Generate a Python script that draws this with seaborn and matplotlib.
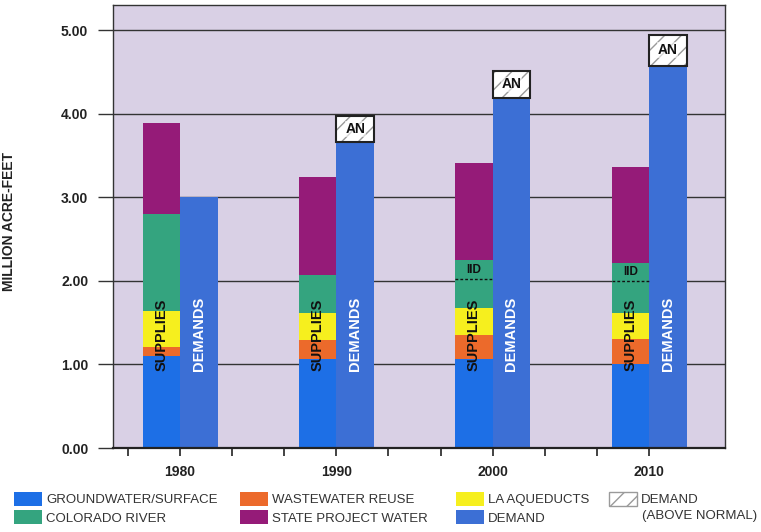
import numpy as np
import pandas as pd
import matplotlib
matplotlib.use('Agg')
import matplotlib.pyplot as plt
from matplotlib.patches import Patch
import seaborn as sns

# values (million acre-feet)
years = [1980, 1990, 2000, 2010]
groundwater = [1.10, 1.07, 1.07, 1.01]
wastewater = [0.11, 0.22, 0.28, 0.30]
la_aqueducts = [0.43, 0.33, 0.33, 0.31]
colorado = [1.16, 0.45, 0.34, 0.38]
iid = [0.00, 0.00, 0.23, 0.21]
state_project = [1.09, 1.17, 1.16, 1.15]
demand = [3.00, 3.67, 4.19, 4.58]
above_normal = [0.00, 0.30, 0.33, 0.37]

y_ticks = [0, 1, 2, 3, 4, 5]
year_labels = ['1980', '1990', '2000', '2010']

c_gw = '#1d6fe6'
c_ww = '#ec6a2b'
c_la = '#f6ef1e'
c_cr = '#34a47f'
c_swp = '#951b78'
c_dem = '#3c6fd5'
c_bg = '#d9d0e5'

sns.set_style('white')
plt.rcParams['font.family'] = ['Liberation Sans', 'DejaVu Sans']
plt.rcParams['hatch.linewidth'] = 1.0

fig = plt.figure(figsize=(7.61, 5.32), dpi=100)
ax = fig.add_axes([113 / 761, 1 - 448 / 532, 612 / 761, 443 / 532])
ax.set_facecolor(c_bg)

bw = 2.4  # bar width in years
sup = pd.DataFrame({'year': years, 'gw': groundwater, 'ww': wastewater,
                    'la': la_aqueducts, 'cr': colorado, 'iid': iid,
                    'swp': state_project})
sup['x'] = sup.year - bw / 2
layers = [('gw', c_gw), ('ww', c_ww), ('la', c_la), ('cr', c_cr),
          ('iid', c_cr), ('swp', c_swp)]
cum = sup[[l[0] for l in layers]].cumsum(axis=1)

# stacked supplies: draw cumulative totals from the top down
for col, color in reversed(layers):
    sns.barplot(x=sup.x, y=cum[col], color=color, native_scale=True,
                width=bw / 10, saturation=1, linewidth=0, errorbar=None, ax=ax)

dem = pd.DataFrame({'x': [y + bw / 2 for y in years], 'demand': demand})
sns.barplot(data=dem, x='x', y='demand', color=c_dem, native_scale=True,
            width=bw / 10, saturation=1, linewidth=0, errorbar=None, ax=ax)

# above normal demand boxes
an_x = [y + bw / 2 for y, a in zip(years, above_normal) if a > 0]
an_h = [a for a in above_normal if a > 0]
an_b = [d for d, a in zip(demand, above_normal) if a > 0]
ax.bar(an_x, an_h, bottom=an_b, width=bw, color='white', edgecolor='#9a9a9a',
       linewidth=0, hatch='//', zorder=3)
ax.bar(an_x, an_h, bottom=an_b, width=bw, color='none', edgecolor='#222222',
       linewidth=1.5, zorder=4)
for x, h, b in zip(an_x, an_h, an_b):
    ax.text(x, b + h / 2, 'AN', ha='center', va='center', fontsize=10,
            fontweight='bold', color='#111111', zorder=5,
            bbox=dict(facecolor='white', edgecolor='none', pad=0.5, alpha=0.6))

# IID split inside the colorado river segment
for i, y in enumerate(years):
    if iid[i] > 0:
        ax.hlines(cum['cr'][i], y - bw, y, colors='#111111', linestyles=(0, (2, 1.5)),
                  linewidth=1, zorder=4)
        ax.text(y - bw / 2, cum['cr'][i] + iid[i] / 2, 'IID', ha='center', va='center',
                fontsize=8.5, fontweight='bold', color='#111111', zorder=5)
    ax.text(y - bw / 2, 1.36, 'SUPPLIES', rotation=90, ha='center', va='center',
            fontsize=10.5, fontweight='bold', color='#111111', zorder=5)
    ax.text(y + bw / 2, 1.37, 'DEMANDS', rotation=90, ha='center', va='center',
            fontsize=10.5, fontweight='bold', color='white', zorder=5)

ax.set_xlim(1975.71, 2014.86)
ax.set_ylim(0, 5.305)

ax.set_axisbelow(True)
ax.yaxis.grid(True, color='#333333', linewidth=1)
ax.xaxis.grid(False)
ax.set_yticks(y_ticks)
ax.set_yticklabels([f'{v:.2f}' for v in y_ticks])
ax.tick_params(axis='y', left=True, length=10.8, width=1, color='#333333',
               direction='out', pad=7, labelsize=10, labelcolor='#222222')

# one tick every third of a decade, year labels on every third tick
x_ticks = [1980 + k * 10 / 3 for k in range(-1, 10)]
x_labels = [year_labels[(i - 1) // 3] if (i - 1) % 3 == 0 else ''
            for i in range(len(x_ticks))]
ax.set_xticks(x_ticks)
ax.set_xticklabels(x_labels)
ax.tick_params(axis='x', bottom=True, length=6, width=1.2, color='#222222',
               direction='out', pad=6, labelsize=10, labelcolor='#222222')
for lab in ax.get_xticklabels() + ax.get_yticklabels():
    lab.set_fontweight('bold')

for s in ['left', 'top', 'right']:
    ax.spines[s].set_color('#333333')
    ax.spines[s].set_linewidth(1)
ax.spines['bottom'].set_color('#222222')
ax.spines['bottom'].set_linewidth(1.6)

ax.set_xlabel('')
ax.set_ylabel('MILLION ACRE-FEET', fontsize=10, fontweight='bold', color='#222222')
ax.yaxis.set_label_coords(-0.158, 0.512)

# legend, four columns placed under the chart
leg_kw = dict(loc='upper left', frameon=False, fontsize=9.5, borderpad=0,
              borderaxespad=0, handlelength=2.1, handleheight=1.25,
              handletextpad=0.33, labelspacing=0.3, labelcolor='#333333')
cols = [
    (14, [(c_gw, 'GROUNDWATER/SURFACE'), (c_cr, 'COLORADO RIVER')]),
    (240, [(c_ww, 'WASTEWATER REUSE'), (c_swp, 'STATE PROJECT WATER')]),
    (456, [(c_la, 'LA AQUEDUCTS'), (c_dem, 'DEMAND')]),
]
for xpx, items in cols:
    handles = [Patch(facecolor=c, edgecolor='none') for c, _ in items]
    fig.legend(handles, [t for _, t in items],
               bbox_to_anchor=(xpx / 761, 1 - 492 / 532), **leg_kw)
fig.legend([Patch(facecolor='white', edgecolor='#9a9a9a', hatch='//', linewidth=1)],
           ['DEMAND'], bbox_to_anchor=(609 / 761, 1 - 492 / 532), **leg_kw)
fig.text(642 / 761, 1 - 516 / 532, '(ABOVE NORMAL)', fontsize=9.5, color='#333333',
         va='center', ha='left')

fig.savefig('out.png', dpi=100, facecolor='white')
